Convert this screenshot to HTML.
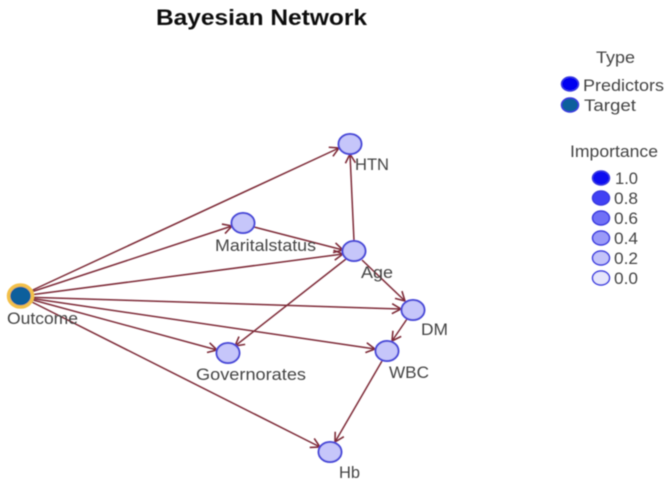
<!DOCTYPE html>
<html>
<head>
<meta charset="utf-8">
<style>
html,body{margin:0;padding:0;background:#fff;width:669px;height:490px;overflow:hidden}
svg{display:block;font-family:"Liberation Sans",sans-serif}
text{fill:#444;font-size:16.5px}
.e{stroke:#7e2c38;stroke-width:1.5;fill:none;marker-end:url(#a)}
.n{fill:#c6c6fa;stroke:#4a4ad8;stroke-width:2}
</style>
</head>
<body>
<svg width="669" height="490" viewBox="0 0 669 490" xmlns="http://www.w3.org/2000/svg">
<defs>
<marker id="a" markerUnits="userSpaceOnUse" markerWidth="14" markerHeight="14" refX="11" refY="7" orient="auto">
<path d="M2,2 L11,7 L2,12" fill="none" stroke="#7e2c38" stroke-width="1.6"/>
</marker>
<filter id="b" x="-5%" y="-5%" width="110%" height="110%"><feGaussianBlur stdDeviation="0.4"/></filter>
</defs>
<g filter="url(#b)">
<text x="156" y="25" style="font-size:22.5px;font-weight:bold;fill:#111" textLength="211" lengthAdjust="spacingAndGlyphs">Bayesian Network</text>

<line class="e" x1="22" y1="295" x2="339" y2="148"/>
<line class="e" x1="22" y1="295" x2="232" y2="226"/>
<line class="e" x1="22" y1="296" x2="343" y2="254"/>
<line class="e" x1="22" y1="297" x2="401" y2="309"/>
<line class="e" x1="22" y1="297" x2="375" y2="349"/>
<line class="e" x1="22" y1="297" x2="217" y2="350"/>
<line class="e" x1="22" y1="297" x2="320" y2="447"/>
<line class="e" x1="254" y1="227" x2="343" y2="250"/>
<line class="e" x1="354" y1="241" x2="350" y2="154"/>
<line class="e" x1="362" y1="260" x2="405" y2="301"/>
<line class="e" x1="346" y1="259" x2="235" y2="346"/>
<line class="e" x1="407" y1="319" x2="392" y2="341"/>
<line class="e" x1="382" y1="361" x2="335" y2="442"/>

<ellipse cx="20.5" cy="296" rx="12" ry="11" fill="#0f5f9c" stroke="#f3c04a" stroke-width="3.5"/>
<ellipse class="n" cx="350" cy="144" rx="11.5" ry="10"/>
<ellipse class="n" cx="243" cy="223" rx="11.5" ry="10"/>
<ellipse class="n" cx="354" cy="251" rx="11.5" ry="10"/>
<ellipse class="n" cx="413" cy="310" rx="11.5" ry="10"/>
<ellipse class="n" cx="387" cy="351" rx="11.5" ry="10"/>
<ellipse class="n" cx="228" cy="353" rx="11.5" ry="10"/>
<ellipse class="n" cx="330" cy="452" rx="11.5" ry="10"/>

<text x="7" y="324" textLength="71" lengthAdjust="spacingAndGlyphs">Outcome</text>
<text x="215" y="251" textLength="101" lengthAdjust="spacingAndGlyphs">Maritalstatus</text>
<text x="355" y="170" textLength="34" lengthAdjust="spacingAndGlyphs">HTN</text>
<text x="361" y="278" textLength="32" lengthAdjust="spacingAndGlyphs">Age</text>
<text x="421" y="335" textLength="27" lengthAdjust="spacingAndGlyphs">DM</text>
<text x="389" y="378" textLength="40" lengthAdjust="spacingAndGlyphs">WBC</text>
<text x="196" y="380" textLength="110" lengthAdjust="spacingAndGlyphs">Governorates</text>
<text x="339" y="478" textLength="21" lengthAdjust="spacingAndGlyphs">Hb</text>

<text x="596" y="63" textLength="39" lengthAdjust="spacingAndGlyphs">Type</text>
<ellipse cx="570" cy="84" rx="8.5" ry="7" fill="#0000f0" stroke="#3a3ae0" stroke-width="1.5"/>
<text x="583" y="91" textLength="81" lengthAdjust="spacingAndGlyphs">Predictors</text>
<ellipse cx="570" cy="105" rx="8.5" ry="7" fill="#0f5f9c" stroke="#3a3ae0" stroke-width="1.5"/>
<text x="584" y="111" textLength="52" lengthAdjust="spacingAndGlyphs">Target</text>

<text x="570" y="157" textLength="88" lengthAdjust="spacingAndGlyphs">Importance</text>
<ellipse cx="601" cy="178" rx="8.5" ry="7" fill="#1010f0" stroke="#3a3ae0" stroke-width="1.5"/>
<text x="615" y="184" textLength="23" lengthAdjust="spacingAndGlyphs">1.0</text>
<ellipse cx="601" cy="198" rx="8.5" ry="7" fill="#4040f4" stroke="#3a3ae0" stroke-width="1.5"/>
<text x="614" y="204" textLength="24" lengthAdjust="spacingAndGlyphs">0.8</text>
<ellipse cx="601" cy="218" rx="8.5" ry="7" fill="#7070f6" stroke="#3a3ae0" stroke-width="1.5"/>
<text x="614" y="224" textLength="24" lengthAdjust="spacingAndGlyphs">0.6</text>
<ellipse cx="601" cy="238" rx="8.5" ry="7" fill="#9a9af8" stroke="#3a3ae0" stroke-width="1.5"/>
<text x="614" y="244" textLength="24" lengthAdjust="spacingAndGlyphs">0.4</text>
<ellipse cx="601" cy="258" rx="8.5" ry="7" fill="#c3c3f9" stroke="#3a3ae0" stroke-width="1.5"/>
<text x="614" y="264" textLength="24" lengthAdjust="spacingAndGlyphs">0.2</text>
<ellipse cx="601" cy="278" rx="8.5" ry="7" fill="#e6e6fb" stroke="#3a3ae0" stroke-width="1.5"/>
<text x="614" y="284" textLength="24" lengthAdjust="spacingAndGlyphs">0.0</text>
</g>
</svg>
</body>
</html>
